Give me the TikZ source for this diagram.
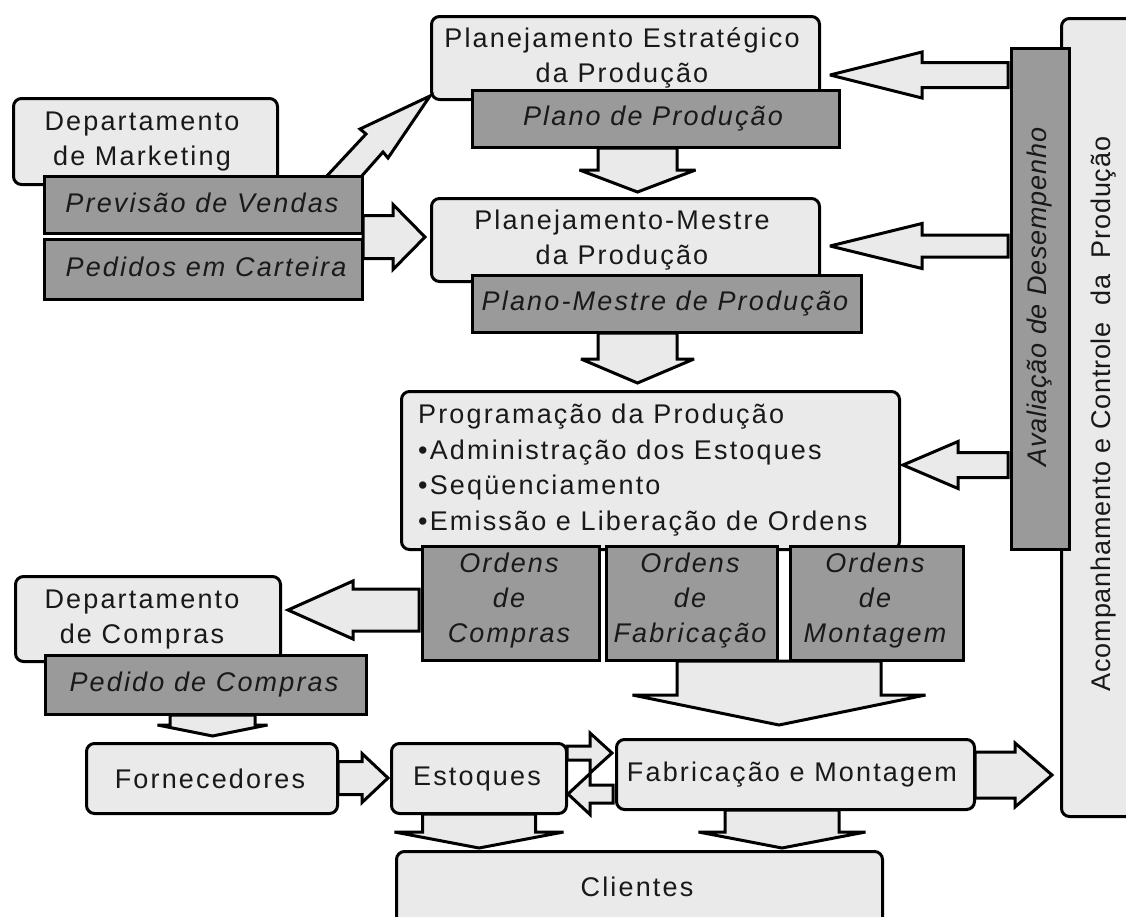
\documentclass[tikz,border=0pt]{standalone}
\usepackage{fontspec}
\setmainfont{Liberation Sans}[LetterSpace=8]
\newfontfamily\vfont{Liberation Sans}[LetterSpace=3]
\definecolor{lfill}{RGB}{234,234,234}
\definecolor{dfill}{RGB}{154,154,154}
\definecolor{tcol}{RGB}{25,25,25}
\tikzset{
  lbox/.style={draw=black, line width=3pt, fill=lfill, rounded corners=8pt, inner sep=0pt, anchor=north west},
  dbox/.style={draw=black, line width=3pt, fill=dfill, inner sep=0pt, anchor=north west},
  barrow/.style={draw=black, line width=3pt, fill=lfill, line join=miter, miter limit=4},
  txt/.style={text=tcol, font=\fontsize{27}{35}\selectfont, align=center, inner sep=0pt},
  itxt/.style={txt, font=\fontsize{27}{35}\selectfont\itshape},
}
% box node: style, x1, y1, x2, y2, name
\newcommand{\bxnode}[6]{\node[#1, minimum width={#4-#2}, minimum height={#5-#3}] (#6) at (#2,#3) {};}
% horizontal block arrow: xbase, xheadbase, xtip, ycenter, shaft half, head half
\newcommand{\harr}[6]{\draw[barrow] ({#1},{#4-#5}) -- ({#2},{#4-#5}) -- ({#2},{#4-#6}) -- ({#3},{#4}) -- ({#2},{#4+#6}) -- ({#2},{#4+#5}) -- ({#1},{#4+#5}) -- cycle;}
% vertical block arrow: xcenter, ybase, yheadbase, ytip, shaft half, head half
\newcommand{\varr}[6]{\draw[barrow] ({#1-#5},{#2}) -- ({#1-#5},{#3}) -- ({#1-#6},{#3}) -- ({#1},{#4}) -- ({#1+#6},{#3}) -- ({#1+#5},{#3}) -- ({#1+#5},{#2}) -- cycle;}
\begin{document}
\begin{tikzpicture}[x=1pt,y=-1pt]
\clip (0,0) rectangle (1126,916);
% right-hand frame
\bxnode{lbox}{1060}{17}{1170}{815}{acomp}
\node[txt, rotate=90, font=\vfont\fontsize{27}{35}\selectfont] (acompt) at (1104,414) {Acompanhamento e Controle\ \ da\ \ Produção};
\bxnode{dbox}{1010}{47}{1068}{548}{aval}
\node[txt, rotate=90, font=\vfont\fontsize{27}{35}\selectfont\itshape] (avalt) at (1040,297) {Avaliação de Desempenho};
% light boxes
\bxnode{lbox}{12}{97}{276}{183}{mkt}
\bxnode{lbox}{430}{15}{818}{98}{pe}
\bxnode{lbox}{430}{197}{818}{280}{pm}
\bxnode{lbox}{400}{390}{898}{548}{prog}
\bxnode{lbox}{14}{575}{279}{660}{comp}
\bxnode{lbox}{85}{742}{336}{812}{forn}
\bxnode{lbox}{390}{742}{565}{812}{est}
\bxnode{lbox}{615}{738}{973}{808}{fab}
\bxnode{lbox}{395}{850}{881}{950}{cli}
% diagonal arrow Marketing -> Planejamento Estrategico
\draw[barrow] (325,178) -- (366,134) -- (360,129) -- (430,96) -- (388,158) -- (383,152) -- (360,178) -- cycle;
% dark boxes
\bxnode{dbox}{43}{175}{361}{232}{prev}
\bxnode{dbox}{43}{238}{361}{298}{ped}
\bxnode{dbox}{471}{89}{838}{146}{plano}
\bxnode{dbox}{471}{274}{860}{331}{pmp}
\bxnode{dbox}{421}{545}{598}{659}{oc}
\bxnode{dbox}{605}{545}{776}{659}{of}
\bxnode{dbox}{789}{545}{962}{659}{om}
\bxnode{dbox}{44}{654}{365}{713}{pc}
% texts
\node[txt] (mktt) at (142,142) {Departamento\\de Marketing};
\node[txt] (pet) at (622,58) {Planejamento Estratégico\\da Produção};
\node[txt] (pmt) at (622,240) {Planejamento-Mestre\\da Produção};
\node[txt, align=left, anchor=west, font=\fontsize{27}{35.7}\selectfont] (progt) at (418,470) {Programação da Produção\\•Administração dos Estoques\\•Seqüenciamento\\•Emissão e Liberação de Ordens};
\node[txt] (compt) at (142,620) {Departamento\\de Compras};
\node[txt] (fornt) at (210,779) {Fornecedores};
\node[txt] (estt) at (477,779) {Estoques};
\node[txt] (fabt) at (792,775) {Fabricação e Montagem};
\node[txt] (clit) at (637,887) {Clientes};
\node[itxt] (prevt) at (202,203) {Previsão de Vendas};
\node[itxt] (pedt) at (206,267) {Pedidos em Carteira};
\node[itxt] (planot) at (653,119) {Plano de Produção};
\node[itxt] (pmpt) at (665,304) {Plano-Mestre de Produção};
\node[itxt] (oct) at (509,601) {Ordens\\de\\Compras};
\node[itxt] (oft) at (690,601) {Ordens\\de\\Fabricação};
\node[itxt] (omt) at (875,601) {Ordens\\de\\Montagem};
\node[itxt] (pct) at (204,685) {Pedido de Compras};
% block arrows
\harr{363}{393}{425}{237}{21.5}{32.5}
\varr{637.5}{148}{170}{192}{39.5}{58}
\varr{637.5}{333}{359}{383}{39.5}{56.5}
\varr{779}{661}{695}{725}{102}{146.5}
\harr{419}{353}{288}{610}{21}{29}
\varr{212.5}{715}{725}{736}{42.5}{55}
\harr{338}{362}{388}{778}{16.5}{24.5}
\harr{567}{590}{612}{753}{7}{20}
\harr{613}{590}{568}{794}{9}{20.5}
\harr{975}{1015}{1052}{775}{23}{32}
\varr{479}{814}{832}{848}{56.5}{84.5}
\varr{782}{810}{832}{848}{57}{83.5}
\harr{1008}{922}{830}{75}{12.5}{23}
\harr{1008}{922}{830}{246}{11}{22.5}
\harr{1008}{958}{903}{465}{12.5}{23.5}
\end{tikzpicture}
\end{document}
